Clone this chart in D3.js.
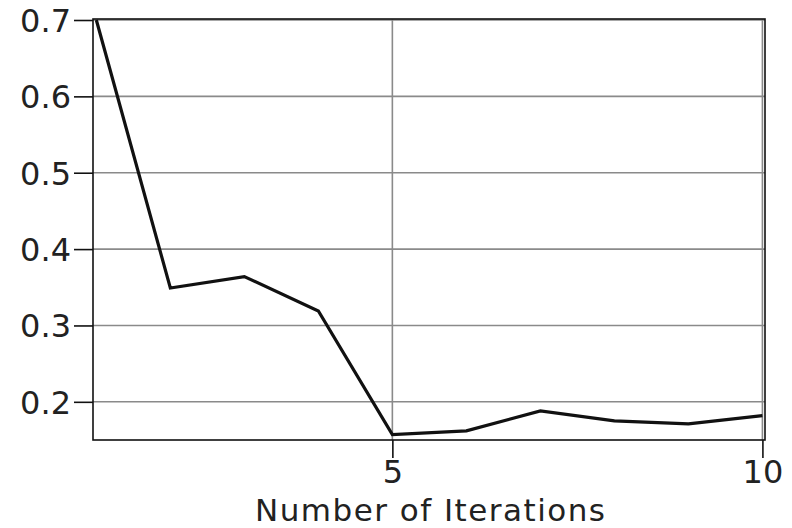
<!DOCTYPE html>
<html>
<head>
<meta charset="utf-8">
<script src="https://cdn.jsdelivr.net/npm/d3@7/dist/d3.min.js"></script>
<style>
  html, body { margin: 0; padding: 0; background: #fff; }
  svg { display: block; }
  text { font-family: "DejaVu Sans", sans-serif; fill: #222; }
</style>
</head>
<body>
<svg id="chart" width="792" height="528"></svg>
<script>
// Error per iteration
const iterations = [1, 2, 3, 4, 5, 6, 7, 8, 9, 10];
const errorValues = [0.700, 0.349, 0.364, 0.319, 0.157, 0.162, 0.188, 0.175, 0.171, 0.182];
const yTicks = [0.2, 0.3, 0.4, 0.5, 0.6, 0.7];
const xTicks = [5, 10];
const xLabel = "Number of Iterations";

const svg = d3.select("#chart");
const plotLeft = 93, plotRight = 765, plotTop = 19, plotBottom = 440;

const x = d3.scaleLinear().domain([0.955, 10.035]).range([plotLeft, plotRight]);
const y = d3.scaleLinear().domain([0.15, 0.7]).range([plotBottom, 20]);

// grid
svg.append("g").selectAll("line").data(yTicks).join("line")
  .attr("x1", plotLeft).attr("x2", plotRight)
  .attr("y1", d => y(d)).attr("y2", d => y(d))
  .attr("stroke", "#8a8a8a").attr("stroke-width", 1.6);
svg.append("g").selectAll("line").data(xTicks).join("line")
  .attr("x1", d => x(d)).attr("x2", d => x(d))
  .attr("y1", plotTop).attr("y2", plotBottom)
  .attr("stroke", "#8a8a8a").attr("stroke-width", 1.6);

// frame
svg.append("rect")
  .attr("x", plotLeft).attr("y", plotTop)
  .attr("width", plotRight - plotLeft).attr("height", plotBottom - plotTop)
  .attr("fill", "none").attr("stroke", "#111").attr("stroke-width", 1.6);

// axes
const yAxis = d3.axisLeft(y).tickValues(yTicks).tickSize(19).tickPadding(3)
  .tickFormat(d3.format(".1f"));
const gy = svg.append("g").attr("transform", `translate(${plotLeft},0)`).call(yAxis);
gy.select(".domain").remove();
gy.selectAll(".tick line").attr("stroke", "#111").attr("stroke-width", 1.6);
gy.selectAll(".tick text").attr("font-size", 32).attr("dy", "0.36em")
  .style("font-family", "DejaVu Sans, sans-serif").attr("fill", "#222");

const xAxis = d3.axisBottom(x).tickValues(xTicks).tickSize(18).tickPadding(2)
  .tickFormat(d3.format("d"));
const gx = svg.append("g").attr("transform", `translate(0,${plotBottom})`).call(xAxis);
gx.select(".domain").remove();
gx.selectAll(".tick line").attr("stroke", "#111").attr("stroke-width", 1.6);
gx.selectAll(".tick text").attr("font-size", 32)
  .style("font-family", "DejaVu Sans, sans-serif").attr("fill", "#222");

svg.append("text")
  .attr("x", 430).attr("y", 521)
  .attr("text-anchor", "middle").attr("font-size", 31)
  .attr("textLength", 350).attr("lengthAdjust", "spacing")
  .text(xLabel);

// error curve
const line = d3.line().x((d, i) => x(iterations[i])).y(d => y(d));
svg.append("path")
  .datum(errorValues)
  .attr("d", line)
  .attr("fill", "none").attr("stroke", "#111").attr("stroke-width", 3.2)
  .attr("stroke-linejoin", "miter");
</script>
</body>
</html>
